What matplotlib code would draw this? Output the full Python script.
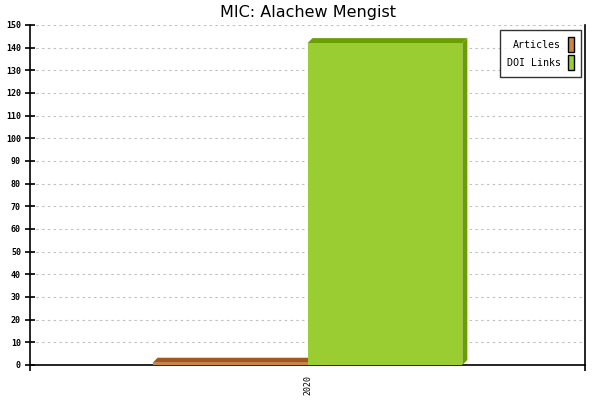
import matplotlib
matplotlib.use("Agg")
import matplotlib.pyplot as plt
from matplotlib.patches import Polygon, Patch

# data
years = ["2020"]
series = ["Articles", "DOI Links"]
articles = [1]
doi_links = [142]

front_colors = ["#cd853f", "#9acd32"]
dark_colors = ["#a3581a", "#6b9e00"]

fig = plt.figure(figsize = (6, 4), dpi = 100)
ax = fig.add_axes([30 / 600, 35 / 400, 555 / 600, 340 / 400])
ax.set_xlim(-0.5, 0.5)
ax.set_ylim(0, 150)

# pixel -> data conversion for the 3d depth
px_x = 1.0 / 555
px_y = 150.0 / 340
depth_x = 5 * px_x
depth_y = 5 * px_y

bar_w = 0.279
values = [articles, doi_links]
for s, vals in enumerate(values):
    for i, v in enumerate(vals):
        x0 = i - bar_w + s * bar_w
        x1 = x0 + bar_w
        # top face
        top = Polygon([(x0, v), (x0 + depth_x, v + depth_y), (x1 + depth_x, v + depth_y), (x1, v)],
                      closed = True, facecolor = dark_colors[s], edgecolor = "none", zorder = 3 + s)
        ax.add_patch(top)
        # side face
        side = Polygon([(x1, 0), (x1, v), (x1 + depth_x, v + depth_y), (x1 + depth_x, depth_y)],
                       closed = True, facecolor = dark_colors[s], edgecolor = "none", zorder = 3 + s)
        ax.add_patch(side)
        # front face
        ax.bar([x0], [v], width = bar_w, align = "edge", color = front_colors[s],
               edgecolor = "none", zorder = 3 + s)

# grid
ax.set_yticks(range(0, 151, 10))
ax.yaxis.grid(True, color = "#c0c0c0", linestyle = (0, (2.2, 3)), linewidth = 0.8, zorder = 0)
ax.set_axisbelow(True)

for side in ["left", "bottom", "right"]:
    ax.spines[side].set_linewidth(1.2)
    ax.spines[side].set_color("black")
ax.spines["top"].set_visible(False)

ax.tick_params(axis = "y", direction = "inout", length = 7, width = 1.2, pad = 3)
for lbl in ax.get_yticklabels():
    lbl.set_fontfamily("DejaVu Sans Mono")
    lbl.set_fontsize(6)
    lbl.set_fontweight("bold")

ax.set_xticks([-0.5, 0.5], minor = True)
ax.tick_params(axis = "x", which = "minor", direction = "out", length = 4, width = 1.2)
ax.set_xticks([0])
ax.set_xticklabels(years, rotation = 90, fontfamily = "DejaVu Sans Mono", fontsize = 6)
ax.tick_params(axis = "x", which = "major", length = 0, pad = 7)

ax.set_title("MIC: Alachew Mengist", fontsize = 11.5, pad = 6)

# legend, labels left of the swatches
handles = [Patch(facecolor = front_colors[k], edgecolor = "black", linewidth = 1) for k in range(2)]
leg = ax.legend(handles, series, loc = "upper right", bbox_to_anchor = (0.9928, 0.985),
                borderaxespad = 0, markerfirst = False, handlelength = 0.65, handleheight = 1.9,
                handletextpad = 0.7, labelspacing = 0.3, borderpad = 0.7, fancybox = False,
                prop = {"family": "DejaVu Sans Mono", "size": 7.2})
leg.get_frame().set_edgecolor("black")
leg.get_frame().set_linewidth(1)
leg.set_zorder(10)

plt.savefig("out.png", dpi = 100)
plt.close()
